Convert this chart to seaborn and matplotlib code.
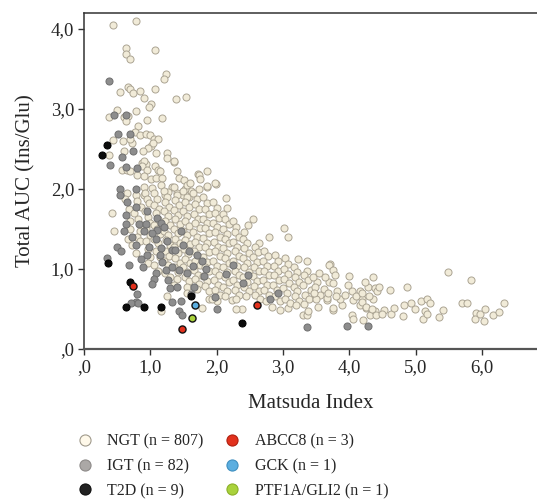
import matplotlib
matplotlib.use("Agg")
import matplotlib.pyplot as plt
from matplotlib.lines import Line2D
import seaborn as sns
import pandas as pd

# ---------------- data ----------------
ngt_pts = [
    # sparse upper part
    (0.44,4.05),(0.79,4.10),(0.64,3.76),(0.63,3.69),(0.70,3.63),(1.07,3.74),(1.24,3.44),(1.20,3.38),
    (0.54,3.21),(0.67,3.28),(0.70,3.25),(0.74,3.20),(0.85,3.23),(0.90,3.14),(1.07,3.25),(1.39,3.13),
    (1.54,3.15),(1.01,3.06),(0.98,3.02),(0.79,2.98),(0.50,2.99),(0.37,2.90),(0.60,2.90),(0.67,2.91),
    (0.95,2.86),(1.18,2.89),(0.81,2.79),(0.63,2.85),(0.77,2.71),(0.84,2.68),(0.94,2.69),(0.99,2.68),
    (1.06,2.62),(1.12,2.63),(0.44,2.61),(0.59,2.60),(0.72,2.58),(0.70,2.62),(1.01,2.54),(1.04,2.58),
    (0.97,2.51),
    # 2.0 - 2.5
    (0.89,2.47),(1.08,2.45),(1.25,2.45),(1.36,2.34),(0.38,2.42),(0.58,2.24),(0.65,2.24),(0.70,2.22),
    (0.87,2.33),(0.93,2.31),(1.07,2.29),(1.12,2.24),(1.25,2.39),(1.36,2.35),(0.90,2.35),(0.88,2.29),
    (0.95,2.24),(1.15,2.23),(1.72,2.19),(1.85,2.23),(0.60,2.47),(0.80,2.18),(0.90,2.16),(1.01,2.12),
    (1.08,2.14),(1.18,2.14),(1.43,2.14),(1.51,2.11),(1.73,2.18),(1.75,2.12),(1.99,2.06),(1.86,2.03),
    (1.73,2.00),(1.62,1.97),(1.52,2.00),(1.32,2.03),(1.16,2.05),(1.03,2.01),(0.91,2.03),(0.65,1.95),
    (0.90,1.93),(1.22,1.92),(1.26,1.96),(1.40,1.95),(1.50,1.93),(1.58,1.90),(1.98,2.07),(1.85,2.04),
    (0.42,1.70),(0.45,1.48),(1.40,2.22),(1.55,2.05),(1.60,2.08),
    # dense cloud
    (0.62,1.88),(0.68,1.75),(0.70,1.60),(0.66,1.38),(0.72,1.30),(0.70,1.50),
    (0.78,1.92),(0.80,1.85),(0.76,1.70),(0.82,1.62),(0.85,1.48),(0.80,1.40),(0.84,1.35),(0.78,1.20),
    (0.86,1.78),(0.88,1.55),
    (0.92,1.95),(0.95,1.88),(0.98,1.82),(0.92,1.72),(0.97,1.65),(1.00,1.58),(0.94,1.50),(0.99,1.42),
    (0.93,1.35),(0.97,1.25),(1.00,1.15),(0.96,1.08),
    (1.05,1.95),(1.10,1.88),(1.06,1.80),(1.13,1.75),(1.08,1.70),(1.12,1.62),(1.05,1.55),(1.10,1.50),
    (1.14,1.44),(1.06,1.38),(1.12,1.32),(1.08,1.22),(1.14,1.15),(1.05,1.05),(1.12,0.98),
    (1.20,1.98),(1.25,1.90),(1.22,1.84),(1.28,1.78),(1.20,1.72),(1.26,1.66),(1.22,1.60),(1.29,1.55),
    (1.21,1.48),(1.27,1.42),(1.23,1.36),(1.30,1.30),(1.22,1.22),(1.28,1.16),(1.20,1.10),(1.26,1.05),
    (1.22,0.95),(1.30,0.90),
    (1.35,2.02),(1.40,1.92),(1.37,1.86),(1.44,1.80),(1.36,1.74),(1.42,1.68),(1.38,1.62),(1.45,1.56),
    (1.36,1.50),(1.42,1.45),(1.38,1.38),(1.45,1.32),(1.36,1.28),(1.42,1.20),(1.38,1.14),(1.45,1.08),
    (1.36,1.02),(1.42,0.96),(1.40,0.88),(1.35,0.80),
    (1.50,1.98),(1.55,1.90),(1.52,1.84),(1.58,1.78),(1.50,1.72),(1.56,1.66),(1.52,1.60),(1.59,1.54),
    (1.50,1.48),(1.56,1.42),(1.52,1.36),(1.60,1.31),(1.51,1.25),(1.57,1.19),(1.53,1.13),(1.60,1.07),
    (1.50,1.02),(1.56,0.96),(1.52,0.90),(1.58,0.85),(1.55,0.78),
    (1.65,1.95),(1.70,1.88),(1.67,1.81),(1.74,1.75),(1.66,1.69),(1.72,1.63),(1.68,1.57),(1.75,1.51),
    (1.65,1.46),(1.71,1.40),(1.67,1.34),(1.74,1.28),(1.66,1.22),(1.72,1.16),(1.68,1.10),(1.75,1.05),
    (1.66,0.99),(1.72,0.93),(1.68,0.87),(1.74,0.81),(1.70,0.75),
    (1.80,1.90),(1.85,1.82),(1.82,1.75),(1.88,1.69),(1.80,1.63),(1.86,1.57),(1.82,1.51),(1.89,1.45),
    (1.80,1.39),(1.86,1.33),(1.82,1.27),(1.89,1.21),(1.80,1.15),(1.86,1.09),(1.82,1.03),(1.88,0.97),
    (1.80,0.91),(1.86,0.85),(1.82,0.79),(1.88,0.72),(1.89,0.63),(1.78,0.51),
    (1.95,1.84),(2.00,1.76),(1.97,1.70),(2.04,1.64),(1.95,1.58),(2.01,1.52),(1.97,1.46),(2.05,1.40),
    (1.96,1.34),(2.02,1.28),(1.98,1.22),(2.05,1.16),(1.95,1.10),(2.01,1.04),(1.97,0.98),(2.04,0.92),
    (1.96,0.86),(2.02,0.80),(1.98,0.74),(2.05,0.68),(2.00,0.60),
    (2.10,1.69),(2.15,1.76),(2.14,1.89),(2.12,1.62),(2.18,1.56),(2.10,1.50),(2.16,1.44),(2.12,1.38),
    (2.19,1.32),(2.10,1.26),(2.16,1.20),(2.12,1.14),(2.19,1.08),(2.10,1.02),(2.16,0.96),(2.12,0.90),
    (2.19,0.84),(2.10,0.78),(2.16,0.72),(2.12,0.66),(2.23,0.61),
    (2.25,1.60),(2.30,1.52),(2.27,1.46),(2.34,1.40),(2.25,1.34),(2.31,1.28),(2.27,1.22),(2.34,1.16),
    (2.25,1.10),(2.31,1.04),(2.27,0.98),(2.34,0.92),(2.25,0.86),(2.31,0.80),(2.27,0.74),(2.34,0.68),
    (2.30,0.62),(2.38,0.50),(2.30,0.50),
    (2.42,1.46),(2.47,1.55),(2.40,1.38),(2.46,1.32),(2.42,1.26),(2.49,1.20),(2.40,1.14),(2.46,1.08),
    (2.42,1.02),(2.49,0.96),(2.40,0.90),(2.46,0.84),(2.42,0.78),(2.49,0.72),(2.44,0.66),(2.55,1.62),
    (2.64,1.33),(2.58,1.27),(2.62,1.21),(2.55,1.15),(2.61,1.09),(2.57,1.03),(2.64,0.97),(2.55,0.91),
    (2.61,0.85),(2.57,0.79),(2.64,0.73),(2.58,0.67),(2.65,0.62),
    (2.79,1.40),(2.72,1.22),(2.78,1.16),(2.70,1.10),(2.76,1.04),(2.72,0.98),(2.79,0.92),(2.70,0.86),
    (2.76,0.80),(2.72,0.74),(2.79,0.68),(2.74,0.60),(2.83,0.53),
    (2.88,1.18),(2.92,1.10),(2.86,1.04),(2.93,0.98),(2.87,0.92),(2.94,0.86),(2.85,0.80),(2.91,0.74),
    (2.88,0.66),(2.96,0.49),(2.95,0.60),
    (3.02,1.51),(3.08,1.40),(3.03,1.14),(3.08,1.06),(3.01,1.00),(3.07,0.94),(3.02,0.88),(3.09,0.82),
    (3.00,0.76),(3.06,0.70),(3.03,0.62),(3.07,0.51),(3.10,0.58),
    (3.23,1.13),(3.16,1.02),(3.22,0.96),(3.18,0.90),(3.25,0.84),(3.16,0.78),(3.22,0.72),(3.18,0.66),
    (3.25,0.60),(3.20,0.55),(3.31,0.43),
    (3.36,1.10),(3.37,0.98),(3.32,0.92),(3.38,0.86),(3.30,0.80),(3.43,0.74),(3.34,0.68),(3.40,0.62),
    (3.32,0.56),(3.36,0.43),(3.38,0.48),
    (3.51,0.84),(3.46,0.90),(3.55,0.95),(3.48,0.78),(3.53,0.53),(3.56,0.68),(3.50,0.62),(3.47,0.70),
    (3.71,1.06),(3.69,1.05),(3.69,0.84),(3.66,0.61),(3.66,0.64),(3.62,0.75),(3.68,0.70),(3.64,0.90),
    (3.76,0.99),(3.79,0.93),(3.76,0.82),(3.76,0.49),(3.76,0.51),(3.89,0.55),(3.82,0.72),(3.86,0.62),
    (3.80,0.66),
    (3.99,0.91),(4.04,0.72),(3.94,0.68),(4.06,0.61),(4.16,0.72),(4.16,0.55),(4.19,0.63),(4.04,0.43),
    (4.06,0.37),(3.98,0.80),(4.10,0.66),
    (4.29,0.78),(4.39,0.76),(4.26,0.51),(4.31,0.43),(4.39,0.47),(4.36,0.90),(4.19,0.70),(4.19,0.59),
    (4.26,0.53),(4.35,0.50),(4.40,0.43),(4.21,0.36),(4.36,0.63),(4.42,0.72),(4.45,0.77),(4.30,0.66),
    (4.24,0.84),
    # tail
    (4.62,0.74),(4.87,0.78),(4.52,0.49),(4.49,0.44),(4.63,0.44),(4.68,0.51),(4.81,0.41),(4.82,0.55),
    (4.93,0.57),(4.99,0.50),(5.08,0.60),(5.17,0.63),(5.22,0.57),(5.14,0.47),(5.12,0.38),(5.17,0.44),
    (5.41,0.49),(5.36,0.40),(5.70,0.57),(5.78,0.57),(5.92,0.45),(5.89,0.38),(5.97,0.44),(6.05,0.50),
    (6.03,0.35),(6.17,0.42),(6.26,0.46),(6.33,0.57),(5.49,0.96),(5.84,0.86),
    # lower stragglers
    (1.25,0.66),(1.16,0.47),(1.93,0.63),(1.55,0.70),
]
ngt_x = [p[0] for p in ngt_pts]
ngt_y = [p[1] for p in ngt_pts]

igt_x = [0.38,0.45,0.64,0.52,0.70,0.74,0.58,0.39,0.63,0.80,0.54,0.79,0.55,0.65,0.78,0.95,0.63,1.10,
         0.64,0.83,0.93,1.16,0.60,0.90,1.10,1.46,1.08,0.78,0.50,0.56,0.98,1.16,1.32,1.38,1.58,1.71,
         0.95,1.15,1.17,0.35,0.89,1.08,1.23,1.32,1.44,1.65,1.84,1.06,1.03,1.26,1.30,1.40,0.80,0.78,
         0.71,0.81,1.33,1.46,1.43,1.48,1.66,1.61,2.00,1.81,2.14,2.47,2.40,1.98,2.80,2.92,3.37,3.96,
         4.29,1.02,0.72,1.25,0.86,1.55,1.20,0.68,1.50,1.78,2.25]
igt_y = [3.35,2.92,2.92,2.69,2.69,2.47,2.40,2.30,2.28,2.26,2.00,2.00,1.93,1.84,1.77,1.73,1.67,1.64,
         1.56,1.56,1.56,1.57,1.47,1.47,1.49,1.48,1.37,1.30,1.27,1.22,1.28,1.26,1.24,1.24,1.22,1.18,
         1.18,1.18,1.09,1.14,1.03,0.95,0.99,1.02,0.99,1.04,1.00,0.88,0.81,0.86,0.76,0.78,0.69,0.59,
         0.57,0.57,0.59,0.60,0.48,0.42,0.78,0.69,0.50,0.91,0.94,0.92,0.83,0.65,0.63,0.70,0.27,0.29,
         0.29,1.45,1.40,1.35,1.12,0.95,1.52,1.05,1.30,1.10,1.05]

t2d_x = [0.35,0.27,0.36,0.69,0.63,0.91,1.16,1.61,2.39]
t2d_y = [2.55,2.43,1.07,0.84,0.53,0.53,0.52,0.66,0.33]

abcc8_x = [0.74,1.48,2.61]
abcc8_y = [0.79,0.25,0.55]
gck_x = [1.68]
gck_y = [0.555]
ptf_x = [1.63]
ptf_y = [0.39]

labels = ["NGT (n = 807)", "IGT (n = 82)", "T2D (n = 9)",
          "ABCC8 (n = 3)", "GCK (n = 1)", "PTF1A/GLI2 (n = 1)"]
x_ticks = [0, 1, 2, 3, 4, 5, 6]
x_ticklabels = [",0", "1,0", "2,0", "3,0", "4,0", "5,0", "6,0"]
y_ticks = [0, 1, 2, 3, 4]
y_ticklabels = [",0", "1,0", "2,0", "3,0", "4,0"]

# ---------------- plot ----------------
sns.set_style("white")
plt.rcParams["font.family"] = ["Liberation Serif", "DejaVu Serif"]

fig = plt.figure(figsize=(5.37, 5.0), dpi=100)
ax = fig.add_axes([84/537, 1-349/500, (537-84)/537, (349-13)/500])

groups = [
    (ngt_x, ngt_y, "#F1EBD8", "#ABA493", 0.7),
    (igt_x, igt_y, "#8D8D8D", "#6F6F6F", 0.7),
    (t2d_x, t2d_y, "#0C0C0C", "#000000", 0.7),
    (abcc8_x, abcc8_y, "#E2311D", "#111111", 1.0),
    (gck_x, gck_y, "#5BAEE0", "#111111", 1.0),
    (ptf_x, ptf_y, "#A9D23B", "#111111", 1.0),
]
for gx, gy, fc, ec, lw in groups:
    df = pd.DataFrame({"x": gx, "y": gy})
    sns.scatterplot(data=df, x="x", y="y", ax=ax, s=26, color=fc,
                    edgecolor=ec, linewidth=lw, legend=False, zorder=3)

ax.set_xlim(0, (537-84)/66.3)
ax.set_ylim(0, 4.2)
ax.set_xticks(x_ticks)
ax.set_xticklabels(x_ticklabels)
ax.set_yticks(y_ticks)
ax.set_yticklabels(y_ticklabels)
ax.tick_params(axis="both", which="major", bottom=True, left=True, direction="out",
               length=4, width=1, color="#333333", labelsize=13.5, pad=3)
ax.set_xlabel("Matsuda Index", fontsize=15, labelpad=13)
ax.set_ylabel("Total AUC (Ins/Glu)", fontsize=15, labelpad=11)
for side in ["left", "bottom", "top"]:
    ax.spines[side].set_visible(True)
    ax.spines[side].set_color("#333333")
    ax.spines[side].set_linewidth(1.1)
ax.spines["bottom"].set_color("#555555")
ax.spines["bottom"].set_linewidth(1.6)
ax.spines["right"].set_visible(False)

leg_face = ["#FFF9EA", "#ABA8A6", "#222222", "#E2311D", "#5BAEE0", "#A9D23B"]
leg_edge = ["#A09A8C", "#8E8B89", "#111111", "#B02010", "#3F8FC0", "#8CB02A"]
handles = [Line2D([0], [0], marker="o", linestyle="", markersize=8,
                  markerfacecolor=f, markeredgecolor=e, markeredgewidth=0.8)
           for f, e in zip(leg_face, leg_edge)]
fig.legend(handles, labels, ncol=2, loc="upper left", bbox_to_anchor=(0.1315, 0.146),
           frameon=False, fontsize=11.5, handlelength=1.0, handletextpad=0.9,
           columnspacing=1.3, labelspacing=0.55, borderaxespad=0)

fig.savefig("out.png", dpi=100)
